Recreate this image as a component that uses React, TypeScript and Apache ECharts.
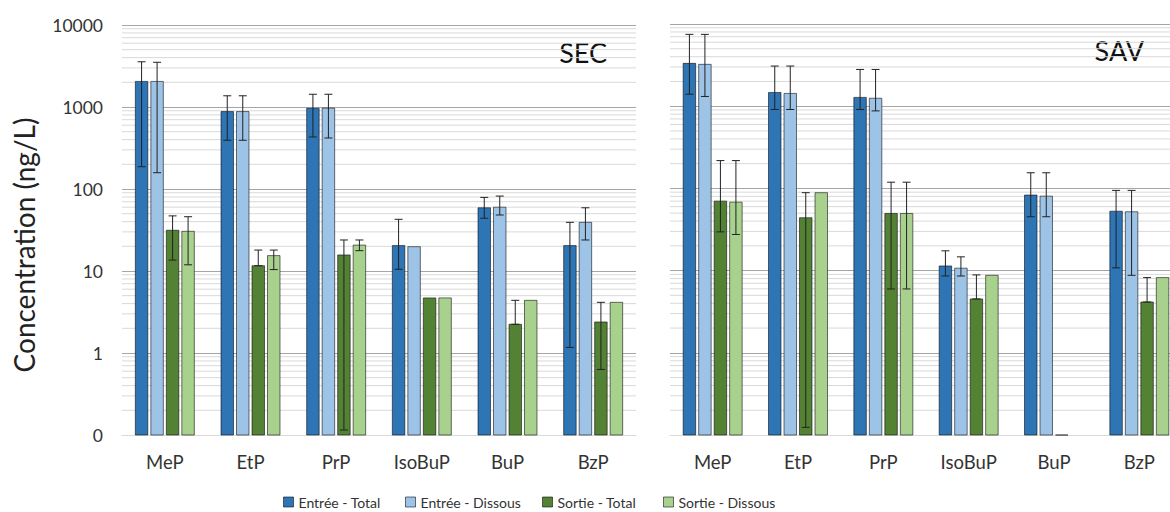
import React, { useEffect, useRef } from 'react';
import * as echarts from 'echarts';

const categories = ['MeP', 'EtP', 'PrP', 'IsoBuP', 'BuP', 'BzP'];
const seriesNames = ['Entrée - Total', 'Entrée - Dissous', 'Sortie - Total', 'Sortie - Dissous'];
const panelTitles = ['SEC', 'SAV'];

// SEC panel values (ng/L) with error-bar low/high
const secEntreeTotal = [2050, 880, 965, 20.4, 59, 20.4];
const secEntreeTotalLow = [187, 393, 431, 10.5, 44, 1.17];
const secEntreeTotalHigh = [3560, 1370, 1430, 42.7, 79, 39.2];
const secEntreeDissous = [2050, 880, 970, 19.8, 60, 39.2];
const secEntreeDissousLow = [158, 393, 419, null, 48.2, 23.9];
const secEntreeDissousHigh = [3510, 1370, 1430, null, 82, 59];
const secSortieTotal = [31.4, 11.6, 15.7, 4.7, 2.24, 2.39];
const secSortieTotalLow = [13.6, 11.6, 0.115, null, 2.24, 0.63];
const secSortieTotalHigh = [47, 18, 23.9, null, 4.39, 4.15];
const secSortieDissous = [30.5, 15.4, 20.7, 4.7, 4.39, 4.15];
const secSortieDissousLow = [11.9, 10.4, 17.7, null, null, null];
const secSortieDissousHigh = [45.9, 18, 23.9, null, null, null];

// SAV panel values (ng/L) with error-bar low/high
const savEntreeTotal = [3320, 1470, 1280, 11.4, 83, 52.8];
const savEntreeTotalLow = [1400, 912, 912, 8.6, 45.2, 10.8];
const savEntreeTotalHigh = [7480, 3080, 2800, 17.4, 155, 94.6];
const savEntreeDissous = [3230, 1430, 1250, 10.7, 80.5, 52];
const savEntreeDissousLow = [1313, 912, 877, 8.6, 45.2, 8.77];
const savEntreeDissousHigh = [7480, 3080, 2800, 14.7, 155, 94.6];
const savSortieTotal = [70, 44, 49.5, 4.52, 0.1, 4.15];
const savSortieTotalLow = [29.6, 0.124, 5.98, 4.52, null, 4.15];
const savSortieTotalHigh = [218, 88.7, 119, 8.86, null, 8.22];
const savSortieDissous = [68, 88.7, 49.5, 8.77, null, 8.22];
const savSortieDissousLow = [27.5, null, 5.98, null, null, null];
const savSortieDissousHigh = [218, null, 119, null, null, null];

const yMin = 0.1;
const yMax = 10000;
const minorMultipliers = [2, 3, 4, 5, 6, 7, 8, 9];
const minorDecades = [0.1, 1, 10, 100, 1000];

const colors = ['#2E75B6', '#9DC3E6', '#548235', '#A9D18E'];
const FONT = 'Lato';

type Triple = [(number | null)[], (number | null)[], (number | null)[]];

const panels: Triple[][] = [
  [
    [secEntreeTotal, secEntreeTotalLow, secEntreeTotalHigh],
    [secEntreeDissous, secEntreeDissousLow, secEntreeDissousHigh],
    [secSortieTotal, secSortieTotalLow, secSortieTotalHigh],
    [secSortieDissous, secSortieDissousLow, secSortieDissousHigh],
  ],
  [
    [savEntreeTotal, savEntreeTotalLow, savEntreeTotalHigh],
    [savEntreeDissous, savEntreeDissousLow, savEntreeDissousHigh],
    [savSortieTotal, savSortieTotalLow, savSortieTotalHigh],
    [savSortieDissous, savSortieDissousLow, savSortieDissousHigh],
  ],
];

const BAR_W = 12.5;
const BAR_STEP = 15.5;
const CAP = 4;

function barRenderer(k: number, color: string) {
  return (params: any, api: any) => {
    const ci = api.value(0);
    const v = api.value(1);
    const lo = api.value(2);
    const hi = api.value(3);
    const top = api.coord([ci, v]);
    const base = api.coord([ci, yMin]);
    const cx = top[0] + (k - 1.5) * BAR_STEP;
    const children: any[] = [
      {
        type: 'rect',
        shape: { x: cx - BAR_W / 2, y: top[1], width: BAR_W, height: base[1] - top[1] },
        style: { fill: color, stroke: 'rgba(0,0,0,0.55)', lineWidth: 1 },
      },
    ];
    if (Number.isFinite(lo) && Number.isFinite(hi)) {
      const yl = api.coord([ci, lo])[1];
      const yh = api.coord([ci, hi])[1];
      const es = { stroke: '#222', lineWidth: 1 };
      children.push(
        { type: 'line', shape: { x1: cx, y1: yl, x2: cx, y2: yh }, style: es },
        { type: 'line', shape: { x1: cx - CAP, y1: yl, x2: cx + CAP, y2: yl }, style: es },
        { type: 'line', shape: { x1: cx - CAP, y1: yh, x2: cx + CAP, y2: yh }, style: es }
      );
    }
    return { type: 'group', children };
  };
}

export default function App() {
  const ref = useRef<HTMLDivElement>(null);
  useEffect(() => {
    if (!ref.current) return;
    const chart = echarts.init(ref.current, undefined, { renderer: 'svg' });
    const minorValues: number[] = [];
    minorDecades.forEach((d) => minorMultipliers.forEach((m) => minorValues.push(+(d * m).toPrecision(3))));

    const grids = [
      { left: 122, top: 25, width: 514, bottom: 77 },
      { left: 670, top: 24, width: 512, bottom: 77 },
    ];
    const xAxes = grids.map((_, g) => ({
      type: 'category',
      gridIndex: g,
      data: categories,
      axisTick: { show: false },
      axisLine: { lineStyle: { color: '#d9d9d9', width: 1 } },
      axisLabel: { fontSize: 18.5, fontFamily: FONT, color: '#333', margin: 17 },
    }));
    const yAxes = grids.map((_, g) => ({
      type: 'log',
      gridIndex: g,
      logBase: 10,
      min: yMin,
      max: yMax,
      splitNumber: 5,
      axisLine: { show: false },
      axisTick: { show: false },
      axisLabel: {
        show: g === 0,
        fontSize: 17.5,
        fontFamily: FONT,
        color: '#333',
        margin: 19,
        formatter: (v: number) => (v < 1 ? '0' : String(Math.round(v))),
      },
      splitLine: { show: true, showMinLine: false, lineStyle: { color: '#a6a6a6', width: 1 } },
    }));

    const series: any[] = [];
    panels.forEach((panel, g) => {
      series.push({
        type: 'custom',
        xAxisIndex: g,
        yAxisIndex: g,
        z: 1,
        silent: true,
        data: minorValues.map((v) => [0, v]),
        encode: { x: 0, y: 1 },
        renderItem: (params: any, api: any) => {
          const y = api.coord([0, api.value(1)])[1];
          const cs = params.coordSys;
          return {
            type: 'line',
            shape: { x1: cs.x, y1: y, x2: cs.x + cs.width, y2: y },
            style: { stroke: '#d9d9d9', lineWidth: 1 },
          };
        },
      });
      panel.forEach(([vals, lows, highs], k) => {
        const data: any[] = [];
        vals.forEach((v, i) => {
          if (v == null) return;
          data.push([i, v, lows[i] == null ? NaN : lows[i], highs[i] == null ? NaN : highs[i]]);
        });
        series.push({
          type: 'custom',
          name: seriesNames[k],
          xAxisIndex: g,
          yAxisIndex: g,
          z: 2,
          itemStyle: { color: colors[k] },
          data,
          encode: { x: 0, y: 1 },
          renderItem: barRenderer(k, colors[k]),
        });
      });
    });

    const legendX = [283, 405, 542, 663];
    const legends = seriesNames.map((n, i) => ({
      left: legendX[i],
      top: 495,
      padding: 0,
      itemWidth: 10,
      itemHeight: 10,
      icon: 'rect',
      selectedMode: false,
      data: [{ name: n, itemStyle: { color: colors[i], borderColor: 'rgba(0,0,0,0.55)', borderWidth: 1 } }],
      textStyle: { fontSize: 14, fontFamily: FONT, color: '#333' },
    }));

    chart.setOption({
      animation: false,
      backgroundColor: '#fff',
      grid: grids,
      xAxis: xAxes,
      yAxis: yAxes,
      series,
      legend: legends,
      graphic: [
        {
          type: 'text',
          x: 24,
          y: 245,
          rotation: Math.PI / 2,
          style: {
            text: 'Concentration (ng/L)',
            fontSize: 28,
            fontFamily: FONT,
            fill: '#222',
            align: 'center',
            verticalAlign: 'middle',
          },
        },
        {
          type: 'text',
          x: 607,
          y: 52,
          style: { text: panelTitles[0], fontSize: 27, fontFamily: FONT, fill: '#111', align: 'right', verticalAlign: 'middle' },
        },
        {
          type: 'text',
          x: 1144,
          y: 50,
          style: { text: panelTitles[1], fontSize: 27, fontFamily: FONT, fill: '#111', align: 'right', verticalAlign: 'middle' },
        },
      ],
    });
    return () => chart.dispose();
  }, []);
  return (
    <div style={{ position: 'fixed', left: 0, top: 0, width: 1170, height: 512, overflow: 'hidden', background: '#fff' }}>
      <div ref={ref} style={{ width: 1184, height: 512 }} />
    </div>
  );
}
